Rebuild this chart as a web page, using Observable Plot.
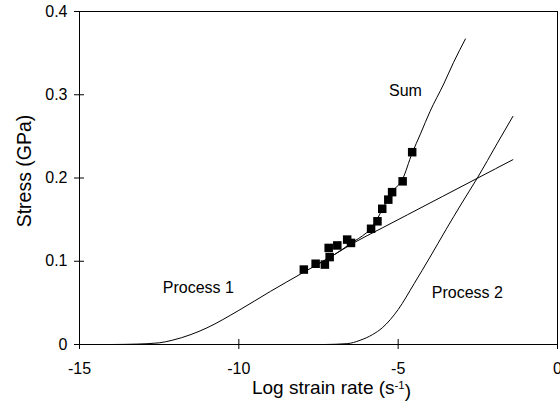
<!DOCTYPE html>
<html>
<head>
<meta charset="utf-8">
<script src="https://cdn.jsdelivr.net/npm/d3@7"></script>
<script src="https://cdn.jsdelivr.net/npm/@observablehq/plot@0.6"></script>
<style>
  body { margin: 0; background: #fff; }
  #chart svg { display: block; }
</style>
</head>
<body>
<div id="chart"></div>
<script>
// Axis ticks and their labels
const xTicks = [-15, -10, -5, 0];
const xTickLabels = ["-15", "-10", "-5", "0"];
const yTicks = [0, 0.1, 0.2, 0.3, 0.4];
const yTickLabels = ["0", "0.1", "0.2", "0.3", "0.4"];

// Process 1 (low-rate mechanism)
const process1X = [-14, -13.2, -12.5, -12.1, -11.5, -11.0, -10.0, -9.0, -8.0, -7.0, -6.4, -5.5, -4.7, -3.6, -2.5, -1.4];
const process1Y = [0, 0.0005, 0.002, 0.005, 0.012, 0.020, 0.041, 0.064, 0.086, 0.108, 0.122, 0.140, 0.156, 0.178, 0.200, 0.222];

// Process 2 (high-rate mechanism)
const process2X = [-7.3, -6.6, -6.2, -5.8, -5.5, -5.0, -4.5, -4.0, -3.5, -3.0, -2.5, -1.9, -1.4];
const process2Y = [0, 0.001, 0.005, 0.012, 0.020, 0.042, 0.073, 0.105, 0.138, 0.170, 0.201, 0.241, 0.274];

// Sum of both processes
const sumX = [-7.5, -7.0, -6.5, -6.0, -5.85, -5.5, -5.2, -4.87, -4.56, -4.3, -4.0, -3.57, -3.26, -2.89];
const sumY = [0.097, 0.108, 0.121, 0.134, 0.139, 0.162, 0.183, 0.198, 0.230, 0.253, 0.280, 0.313, 0.339, 0.367];

// Measured points
const measX = [-7.96, -7.59, -7.30, -7.15, -7.18, -6.91, -6.60, -6.48, -5.85, -5.65, -5.50, -5.31, -5.19, -4.86, -4.56];
const measY = [0.090, 0.097, 0.096, 0.105, 0.116, 0.119, 0.126, 0.122, 0.139, 0.148, 0.163, 0.174, 0.183, 0.196, 0.231];

// Curve labels
const curveLabels = ["Sum", "Process 1", "Process 2"];
const curveLabelX = [-4.77, -11.27, -2.83];
const curveLabelY = [0.305, 0.0685, 0.0625];

const xTitle = "Log strain rate (s-1)";
const yTitle = "Stress (GPa)";

const toPoints = (xs, ys) => xs.map((x, i) => ({x, y: ys[i]}));
const process1 = toPoints(process1X, process1Y);
const process2 = toPoints(process2X, process2Y);
const sum = toPoints(sumX, sumY);
const measured = toPoints(measX, measY);
const labels = curveLabels.map((t, i) => ({t, x: curveLabelX[i], y: curveLabelY[i]}));

const W = 560, H = 409, ML = 79, MR = 3, MT = 11, MB = 65;
const plotW = W - ML - MR, plotH = H - MT - MB;
const tick = 5;

const chart = Plot.plot({
  width: W,
  height: H,
  marginLeft: ML,
  marginRight: MR,
  marginTop: MT,
  marginBottom: MB,
  style: {fontFamily: "'Liberation Sans', Arial, sans-serif", background: "#fff", color: "#000"},
  x: {domain: [-15, 0]},
  y: {domain: [0, 0.4]},
  marks: [
    Plot.frame({stroke: "#000", strokeWidth: 1}),
    // ticks crossing the axis lines
    Plot.tickX(xTicks, {x: d => d, stroke: "#000", strokeWidth: 1, insetTop: plotH - tick, insetBottom: -tick}),
    Plot.tickY(yTicks, {y: d => d, stroke: "#000", strokeWidth: 1, insetLeft: -tick, insetRight: plotW - tick}),
    Plot.axisX({ticks: xTicks, tickFormat: d => xTickLabels[xTicks.indexOf(d)], tickSize: 0, tickPadding: 18, fontSize: 16, label: null}),
    Plot.axisY({ticks: yTicks, tickFormat: d => yTickLabels[yTicks.indexOf(d)], tickSize: 0, tickPadding: 12, fontSize: 16, label: null}),
    Plot.line(process1, {x: "x", y: "y", stroke: "#000", strokeWidth: 1, curve: "monotone-x"}),
    Plot.line(process2, {x: "x", y: "y", stroke: "#000", strokeWidth: 1, curve: "monotone-x"}),
    Plot.line(sum, {x: "x", y: "y", stroke: "#000", strokeWidth: 1, curve: "monotone-x"}),
    Plot.dot(measured, {x: "x", y: "y", symbol: "square", r: 4.8, fill: "#000", stroke: null}),
    Plot.text(labels, {x: "x", y: "y", text: "t", fontSize: 16, fill: "#000", textAnchor: "middle"}),
    Plot.text([xTitle], {frameAnchor: "bottom", dx: 13, dy: 49, fontSize: 19, fill: "#000", textAnchor: "middle"}),
    Plot.text([yTitle], {frameAnchor: "left", dx: -55, dy: -7, rotate: -90, fontSize: 19.5, fill: "#000", textAnchor: "middle"})
  ]
});

document.getElementById("chart").append(chart);

// Render the "-1" in the x title as a superscript
d3.select(chart).selectAll("text").filter(function () { return this.textContent === xTitle; })
  .each(function () {
    const t = d3.select(this);
    t.text(null);
    t.append("tspan").text("Log strain rate (s");
    t.append("tspan").attr("dy", "-0.42em").attr("font-size", "0.6em").text("-1");
    t.append("tspan").attr("dy", "0.42em").text(")");
  });
</script>
</body>
</html>
